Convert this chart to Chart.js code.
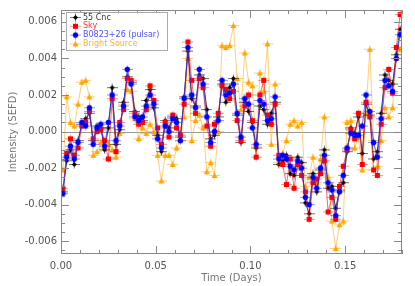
<!DOCTYPE html>
<html>
<head>
<meta charset="utf-8">
<script src="https://cdn.jsdelivr.net/npm/chart.js@4.4.1/dist/chart.umd.min.js"></script>
<style>
  html, body { margin: 0; padding: 0; background: #fff; }
  #wrap { width: 415px; height: 286px; }
</style>
</head>
<body>
<div id="wrap"><canvas id="chart"></canvas></div>
<script>
// --- data ---
const times = [
  0.001, 0.003, 0.005, 0.007, 0.009, 0.011, 0.013, 0.015, 0.017, 0.019,
  0.021, 0.023, 0.025, 0.027, 0.029, 0.031, 0.033, 0.035, 0.037, 0.039,
  0.041, 0.043, 0.045, 0.047, 0.049, 0.051, 0.053, 0.055, 0.057, 0.059,
  0.061, 0.063, 0.065, 0.067, 0.069, 0.071, 0.073, 0.075, 0.077, 0.079,
  0.081, 0.083, 0.085, 0.087, 0.089, 0.091, 0.093, 0.095, 0.097, 0.099,
  0.101, 0.103, 0.105, 0.107, 0.109, 0.111, 0.113, 0.115, 0.117, 0.119,
  0.121, 0.123, 0.125, 0.127, 0.129, 0.131, 0.133, 0.135, 0.137, 0.139,
  0.141, 0.143, 0.145, 0.147, 0.149, 0.151, 0.153, 0.155, 0.157, 0.159,
  0.161, 0.163, 0.165, 0.167, 0.169, 0.171, 0.173, 0.175, 0.177, 0.179
];
const cnc = [
  -0.0033, -0.0016, -0.0010, -0.0018, -0.0005, 0.0004, 0.0007, 0.0010, -0.0005, 0.0003,
  0.0002, -0.0010, 0.0002, 0.0024, -0.0007, 0.0001, 0.0016, 0.0030, 0.0027, 0.0011,
  0.0008, 0.0006, 0.0017, 0.0023, 0.0013, -0.0002, -0.0011, 0.0006, 0.0002, 0.0008,
  0.0007, -0.0003, 0.0019, 0.0044, 0.0018, 0.0014, 0.0031, 0.0029, 0.0012, -0.0004,
  -0.0002, 0.0008, 0.0026, 0.0016, 0.0024, 0.0029, 0.0009, -0.0006, 0.0016, 0.0011,
  0.0005, -0.0009, 0.0014, 0.0012, 0.0004, 0.0010, 0.0016, -0.0018, -0.0016, -0.0013,
  -0.0023, -0.0024, -0.0014, -0.0017, -0.0039, -0.0045, -0.0023, -0.0033, -0.0021, -0.0010,
  -0.0031, -0.0030, -0.0042, -0.0032, -0.0028, -0.0011, 0.0002, -0.0001, 0.0008, -0.0012,
  0.0015, 0.0009, -0.0015, -0.0011, 0.0010, 0.0031, 0.0028, 0.0026, 0.0042, 0.0056
];
const sky = [
  -0.0031, -0.0012, -0.0004, -0.0013, -0.0009, 0.0003, 0.0005, 0.0011, -0.0004, 0.0000,
  0.0001, -0.0005, -0.0015, 0.0018, -0.0011, 0.0005, 0.0012, 0.0029, 0.0028, 0.0010,
  0.0004, 0.0005, 0.0012, 0.0025, 0.0017, 0.0002, -0.0007, 0.0005, -0.0003, 0.0009,
  0.0002, -0.0002, 0.0015, 0.0049, 0.0028, 0.0010, 0.0029, 0.0024, 0.0003, -0.0008,
  0.0004, 0.0010, 0.0025, 0.0023, 0.0018, 0.0022, 0.0006, -0.0005, 0.0014, 0.0020,
  0.0006, -0.0014, 0.0020, 0.0028, 0.0009, 0.0004, 0.0015, -0.0013, -0.0018, -0.0029,
  -0.0015, -0.0031, -0.0018, -0.0024, -0.0033, -0.0048, -0.0028, -0.0026, -0.0023, -0.0016,
  -0.0044, -0.0036, -0.0048, -0.0030, -0.0019, -0.0010, 0.0001, -0.0004, 0.0010, -0.0018,
  0.0016, 0.0008, -0.0021, -0.0024, 0.0004, 0.0024, 0.0034, 0.0021, 0.0046, 0.0064
];
const pulsar = [
  -0.0034, -0.0014, -0.0008, -0.0015, -0.0006, 0.0005, 0.0003, 0.0013, -0.0007, 0.0002,
  0.0004, -0.0008, 0.0005, 0.0020, -0.0005, 0.0003, 0.0014, 0.0034, 0.0026, 0.0008,
  0.0006, 0.0008, 0.0014, 0.0020, 0.0015, -0.0004, -0.0009, 0.0003, 0.0000, 0.0007,
  0.0005, -0.0005, 0.0018, 0.0046, 0.0020, 0.0013, 0.0034, 0.0026, 0.0008, -0.0006,
  0.0000, 0.0006, 0.0028, 0.0020, 0.0021, 0.0026, 0.0010, -0.0003, 0.0018, 0.0015,
  0.0002, -0.0007, 0.0017, 0.0015, 0.0006, 0.0007, 0.0019, -0.0015, -0.0013, -0.0015,
  -0.0019, -0.0021, -0.0016, -0.0020, -0.0036, -0.0040, -0.0025, -0.0031, -0.0020, -0.0013,
  -0.0028, -0.0032, -0.0046, -0.0033, -0.0024, -0.0009, -0.0001, -0.0002, -0.0002, 0.0003,
  0.0020, 0.0011, -0.0006, -0.0014, 0.0007, 0.0028, 0.0025, 0.0022, 0.0040, 0.0053
];
const bright = [
  -0.0021, 0.0019, 0.0005, 0.0003, 0.0015, 0.0027, 0.0028, 0.0019, -0.0013, -0.0011,
  -0.0006, -0.0009, -0.0007, -0.0010, -0.0014, -0.0001, 0.0015, 0.0023, 0.0022, 0.0007,
  -0.0004, 0.0002, -0.0001, 0.0004, 0.0000, -0.0013, -0.0027, -0.0013, -0.0013, -0.0018,
  -0.0009, -0.0005, 0.0008, 0.0040, -0.0005, 0.0006, 0.0009, 0.0002, -0.0022, -0.0017,
  -0.0024, 0.0000, 0.0047, 0.0046, 0.0047, 0.0058, 0.0029, 0.0012, 0.0043, 0.0027,
  0.0025, -0.0008, 0.0032, 0.0022, 0.0048, -0.0007, 0.0026, -0.0017, -0.0012, -0.0005,
  0.0004, 0.0006, 0.0003, 0.0005, -0.0030, -0.0025, -0.0014, -0.0028, -0.0015, 0.0008,
  -0.0025, -0.0049, -0.0064, -0.0051, -0.0049, 0.0005, 0.0006, -0.0009, -0.0003, -0.0021,
  0.0010, 0.0045, -0.0005, -0.0019, -0.0005, 0.0013, 0.0008, 0.0013, 0.0040, 0.0045
];
const seriesNames = ['55 Cnc', 'Sky', 'B0823+26 (pulsar)', 'Bright Source'];
const xTicks = [0, 0.05, 0.10, 0.15];
const yTicks = [-0.006, -0.004, -0.002, 0, 0.002, 0.004, 0.006];

// --- marker images: symbol with small error-bar cross ---
function makeMarker(shape, fill, bar) {
  const c = document.createElement('canvas');
  c.width = 11; c.height = 9;
  const g = c.getContext('2d');
  g.strokeStyle = bar;
  g.lineWidth = 1;
  g.beginPath();
  g.moveTo(0, 4.5); g.lineTo(11, 4.5);
  g.moveTo(5.5, 0.5); g.lineTo(5.5, 8.5);
  g.stroke();
  g.fillStyle = fill;
  g.beginPath();
  if (shape === 'diamond') {
    g.moveTo(5.5, 2); g.lineTo(8, 4.5); g.lineTo(5.5, 7); g.lineTo(3, 4.5);
  } else if (shape === 'square') {
    g.rect(3, 2, 5, 5);
  } else if (shape === 'circle') {
    g.arc(5.5, 4.5, 2.7, 0, Math.PI * 2);
  } else {
    g.moveTo(5.5, 1.5); g.lineTo(8.5, 7); g.lineTo(2.5, 7);
  }
  g.closePath();
  g.fill();
  return c;
}

const markers = [
  makeMarker('diamond', '#000000', 'rgba(0,0,0,0.55)'),
  makeMarker('square', '#ff0000', 'rgba(255,60,60,0.55)'),
  makeMarker('circle', '#0000ff', 'rgba(60,60,255,0.55)'),
  makeMarker('triangle', '#ffa500', 'rgba(255,170,0,0.55)')
];
const lineColors = ['rgba(0,0,0,0.75)', 'rgba(255,0,0,0.6)', 'rgba(40,40,255,0.7)', 'rgba(255,175,40,0.6)'];
const textColors = ['#333333', '#ff3030', '#5050ff', '#ffb030'];

const toPoints = vals => vals.map((v, i) => ({ x: times[i], y: v }));

// --- frame, inward ticks, zero line, legend ---
const framePlugin = {
  id: 'frame',
  beforeDatasetsDraw(chart) {
    const { ctx, chartArea: a, scales: { y } } = chart;
    const y0 = Math.round(y.getPixelForValue(0)) + 0.5;
    ctx.save();
    ctx.strokeStyle = '#999';
    ctx.lineWidth = 1;
    ctx.beginPath();
    ctx.moveTo(a.left, y0);
    ctx.lineTo(a.right, y0);
    ctx.stroke();
    ctx.restore();
  },
  afterDraw(chart) {
    const { ctx, chartArea: a, scales: { x, y } } = chart;
    ctx.save();
    ctx.strokeStyle = '#888';
    ctx.lineWidth = 1;
    ctx.strokeRect(Math.round(a.left) + 0.5, Math.round(a.top) + 0.5,
      Math.round(a.right - a.left) - 1, Math.round(a.bottom - a.top) - 1);

    ctx.beginPath();
    for (let v = 0; v <= 0.1801; v += 0.01) {
      const px = Math.round(x.getPixelForValue(v)) + 0.5;
      const major = Math.abs(v / 0.05 - Math.round(v / 0.05)) < 1e-6;
      const len = major ? 8 : 4;
      ctx.moveTo(px, a.bottom); ctx.lineTo(px, a.bottom - len);
      ctx.moveTo(px, a.top); ctx.lineTo(px, a.top + len);
    }
    for (let k = -13; k <= 13; k++) {
      const v = k * 0.0005;
      const py = Math.round(y.getPixelForValue(v)) + 0.5;
      if (py < a.top || py > a.bottom) continue;
      const len = k % 4 === 0 ? 8 : 4;
      ctx.moveTo(a.left, py); ctx.lineTo(a.left + len, py);
      ctx.moveTo(a.right, py); ctx.lineTo(a.right - len, py);
    }
    ctx.stroke();

    // legend
    const lx = 66, ly = 12, lw = 101, lh = 38;
    ctx.fillStyle = '#fff';
    ctx.fillRect(lx, ly, lw, lh);
    ctx.strokeStyle = '#aaa';
    ctx.strokeRect(lx + 0.5, ly + 0.5, lw, lh);
    ctx.font = '8px "DejaVu Sans"';
    ctx.textBaseline = 'middle';
    seriesNames.forEach((name, i) => {
      const yy = 17.5 + i * 8.8;
      ctx.drawImage(markers[i], 70, yy - 4.5);
      ctx.fillStyle = textColors[i];
      ctx.fillText(name, 83, yy);
    });
    ctx.restore();
  }
};

const series = [cnc, sky, pulsar, bright];
const drawOrder = [3, 2, 1, 4];

new Chart(document.getElementById('chart'), {
  type: 'line',
  data: {
    datasets: series.map((vals, i) => ({
      label: seriesNames[i],
      data: toPoints(vals),
      borderColor: lineColors[i],
      borderWidth: 1,
      pointStyle: markers[i],
      pointRadius: 4,
      fill: false,
      tension: 0,
      order: drawOrder[i]
    }))
  },
  options: {
    responsive: true,
    maintainAspectRatio: false,
    animation: false,
    devicePixelRatio: 1,
    layout: { padding: { top: 4, right: 13, left: 0, bottom: 0 } },
    plugins: { legend: { display: false }, tooltip: { enabled: false } },
    scales: {
      x: {
        type: 'linear',
        min: 0,
        max: 0.18,
        afterBuildTicks: s => { s.ticks = xTicks.map(v => ({ value: v })); },
        afterFit: s => { s.height = 32; },
        grid: { display: false, drawTicks: false },
        border: { display: false },
        ticks: {
          color: '#555',
          font: { family: 'DejaVu Sans', size: 10 },
          padding: 6,
          maxRotation: 0,
          autoSkip: false,
          callback: v => v.toFixed(2)
        },
        title: {
          display: true,
          text: 'Time (Days)',
          color: '#777',
          font: { family: 'DejaVu Sans', size: 10 },
          padding: { top: 0, bottom: 2 }
        }
      },
      y: {
        min: -0.0067,
        max: 0.00665,
        afterBuildTicks: s => { s.ticks = yTicks.map(v => ({ value: v })); },
        afterFit: s => { s.width = 61; },
        grid: { display: false, drawTicks: false },
        border: { display: false },
        ticks: {
          color: '#555',
          font: { family: 'DejaVu Sans', size: 10 },
          padding: 4,
          autoSkip: false,
          callback: v => v.toFixed(3)
        },
        title: {
          display: true,
          text: 'Intensity (SEFD)',
          color: '#777',
          font: { family: 'DejaVu Sans', size: 10 },
          padding: { top: 7, bottom: 0 }
        }
      }
    }
  },
  plugins: [framePlugin]
});
</script>
</body>
</html>
